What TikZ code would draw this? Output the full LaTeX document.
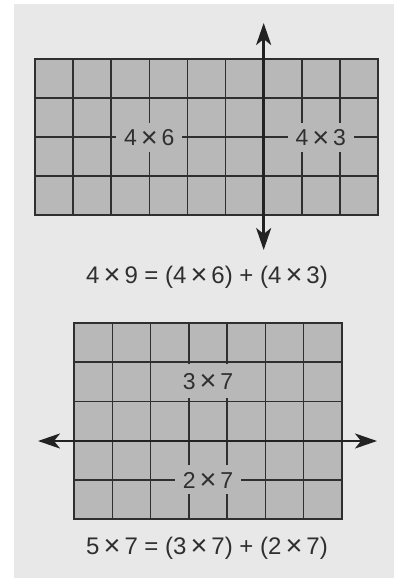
\documentclass[tikz,border=0pt]{standalone}
\usepackage{fontspec}
\setmainfont{Liberation Sans}
\usetikzlibrary{arrows.meta}
\definecolor{paper}{HTML}{E8E8E8}
\definecolor{cellfill}{HTML}{B8B8B8}
\definecolor{ink}{HTML}{2F2F2F}
\definecolor{arrowink}{HTML}{222222}
\newcommand{\tms}{\raisebox{-1.6pt}{\fontsize{29}{29}\selectfont ×}}
\begin{document}
\begin{tikzpicture}[x=1pt,y=-1pt,
  gridline/.style={draw=ink,line width=1.5pt},
  celllabel/.style={fill=cellfill,inner sep=0pt,inner xsep=8pt,text height=17pt,text depth=0pt,inner ysep=6pt,text=ink,font=\fontsize{23}{27}\selectfont},
  eqlabel/.style={inner sep=0pt,text=ink,font=\fontsize{24}{28}\selectfont},
  bigarrow/.style={draw=arrowink,line width=2.7pt,{Stealth[length=22pt,width=15pt,inset=6pt]}-{Stealth[length=22pt,width=15pt,inset=6pt]}}]
\useasboundingbox (0,0) rectangle (394,578);
\fill[white] (0,0) rectangle (394,578);
\fill[paper] (14,4) rectangle (394,578);
% top grid 4 x 9
\fill[cellfill] (35,59) rectangle (378,215);
\foreach \i in {1,...,8} \draw[gridline] ({35+\i*343/9},59) -- ({35+\i*343/9},215);
\foreach \j in {1,2,3} \draw[gridline] (35,{59+\j*39}) -- (378,{59+\j*39});
\draw[gridline] (35,59) rectangle (378,215);
\node[celllabel] (l46) at ({35+3*343/9},137) {4\,\tms\,6};
\node[celllabel] (l43) at ({35+7.5*343/9},137) {4\,\tms\,3};
\coordinate (vtop) at ({35+6*343/9},23);
\coordinate (vbot) at ({35+6*343/9},250);
\draw[bigarrow] (vtop) -- (vbot);
\node[eqlabel] (eq1) at (207,277) {4\,\tms\,9 = (4\,\tms\,6) + (4\,\tms\,3)};
% bottom grid 5 x 7
\fill[cellfill] (74,323) rectangle (342,519);
\foreach \i in {1,...,6} \draw[gridline] ({74+\i*268/7},323) -- ({74+\i*268/7},519);
\foreach \j in {1,...,4} \draw[gridline] (74,{323+\j*39.2}) -- (342,{323+\j*39.2});
\draw[gridline] (74,323) rectangle (342,519);
\node[celllabel,inner ysep=8.5pt] (l37) at (208,380.5) {3\,\tms\,7};
\node[celllabel] (l27) at (208,479.8) {2\,\tms\,7};
\coordinate (hleft) at (38,441);
\coordinate (hright) at (377,441);
\draw[bigarrow] (hleft) -- (hright);
\node[eqlabel] (eq2) at (207,548) {5\,\tms\,7 = (3\,\tms\,7) + (2\,\tms\,7)};
\end{tikzpicture}
\end{document}
